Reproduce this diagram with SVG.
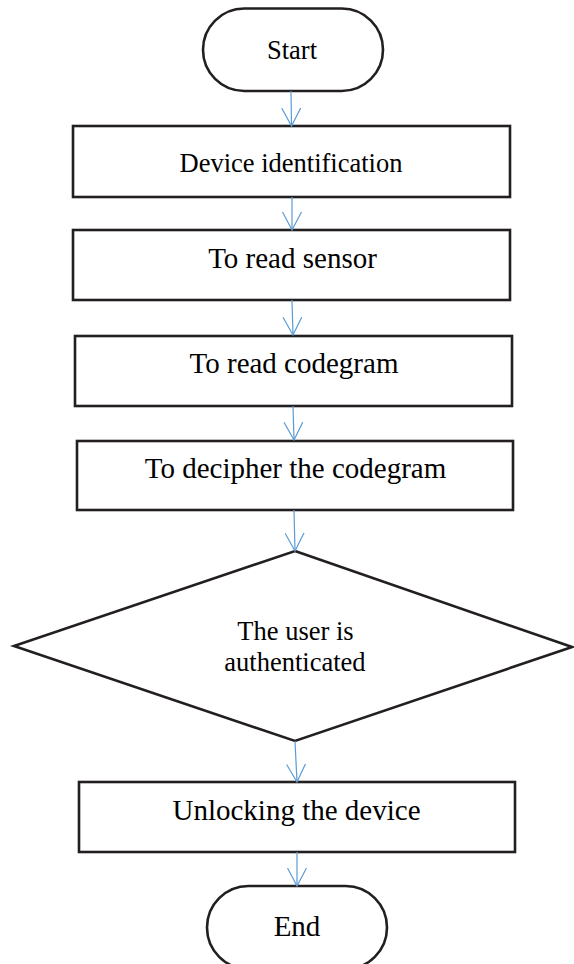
<svg xmlns="http://www.w3.org/2000/svg" width="574" height="964" viewBox="0 0 574 964">
  <defs>
    <style>
      .shape { fill: #ffffff; stroke: #231f20; stroke-width: 2.6; }
      .lbl { font-family: "Liberation Serif", "Times New Roman", serif; fill: #000000; text-anchor: middle; }
      .big { font-size: 29px; }
      .small { font-size: 26.5px; }
      .flow { stroke: #5b9bd5; stroke-width: 1.2; fill: none; }
    </style>
    <!-- open V head, drawn pointing along +x so orient="auto" follows the line -->
    <marker id="vhead" viewBox="0 0 20 20" refX="18" refY="10" markerWidth="20" markerHeight="20" markerUnits="userSpaceOnUse" orient="auto">
      <path d="M0,0.5 L18,10 L0,19.5" fill="none" stroke="#5b9bd5" stroke-width="1.2"/>
    </marker>
  </defs>
  <rect width="574" height="964" fill="#ffffff"/>

  <g id="start">
    <rect class="shape" x="203" y="8.5" width="180" height="82.5" rx="41.25" ry="41.25"/>
    <text class="lbl small" x="292" y="59">Start</text>
  </g>

  <g id="device-identification">
    <rect class="shape" x="73" y="126" width="437" height="71"/>
    <text class="lbl small" x="291" y="172">Device identification</text>
  </g>

  <g id="read-sensor">
    <rect class="shape" x="73" y="230" width="437" height="70"/>
    <text class="lbl big" x="292.5" y="268">To read sensor</text>
  </g>

  <g id="read-codegram">
    <rect class="shape" x="75" y="336" width="437" height="70"/>
    <text class="lbl big" x="294" y="373">To read codegram</text>
  </g>

  <g id="decipher-codegram">
    <rect class="shape" x="77" y="441" width="436" height="69"/>
    <text class="lbl big" x="295.5" y="478">To decipher the codegram</text>
  </g>

  <g id="user-authenticated">
    <polygon class="shape" points="295,551 572,647 295,741 14,646"/>
    <text class="lbl small" x="295.5" y="640">The user is</text>
    <text class="lbl small" x="295" y="671">authenticated</text>
  </g>

  <g id="unlock-device">
    <rect class="shape" x="79" y="782" width="436" height="70"/>
    <text class="lbl big" x="296.5" y="820">Unlocking the device</text>
  </g>

  <g id="end">
    <rect class="shape" x="207" y="886" width="180" height="83" rx="41.5" ry="41.5"/>
    <text class="lbl big" x="297" y="936">End</text>
  </g>

  <g id="connectors">
    <line class="flow" x1="291" y1="91" x2="291.5" y2="126" marker-end="url(#vhead)"/>
    <line class="flow" x1="292" y1="197" x2="292" y2="230" marker-end="url(#vhead)"/>
    <line class="flow" x1="292" y1="300" x2="293" y2="335" marker-end="url(#vhead)"/>
    <line class="flow" x1="293" y1="406" x2="294" y2="440" marker-end="url(#vhead)"/>
    <line class="flow" x1="294" y1="510" x2="295" y2="551" marker-end="url(#vhead)"/>
    <line class="flow" x1="295" y1="741" x2="297" y2="782" marker-end="url(#vhead)"/>
    <line class="flow" x1="297" y1="852" x2="297" y2="886" marker-end="url(#vhead)"/>
  </g>
</svg>
